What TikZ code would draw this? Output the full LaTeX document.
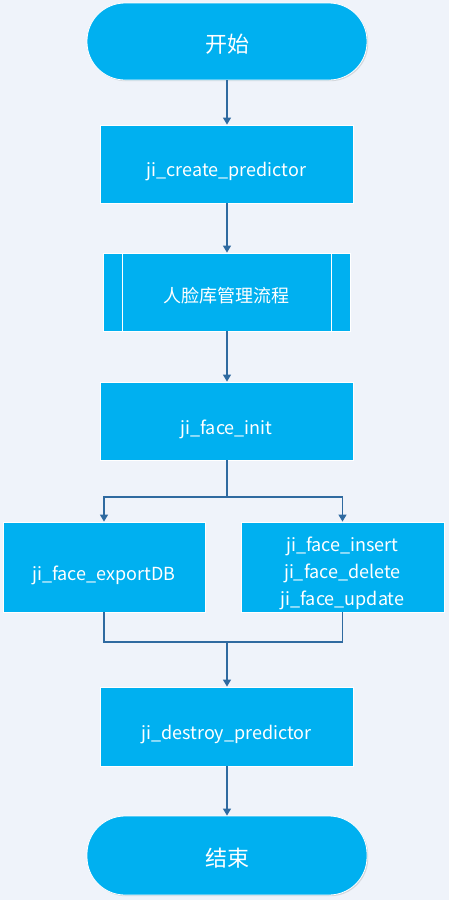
\documentclass[tikz,border=0pt]{standalone}
\usepackage{fontspec}
\setmainfont{Noto Sans CJK SC}
\usetikzlibrary{arrows.meta,shadows}
\definecolor{bgc}{HTML}{EFF3FA}
\definecolor{boxc}{HTML}{00B0F0}
\definecolor{linec}{HTML}{2F6AA0}
\newcommand{\lowr}[2]{\raisebox{-#1}[\height][\depth]{#2}}
\tikzset{
  base/.style={fill=boxc, draw=white, line width=0.8pt, text=white, font=\fontsize{18}{27}\selectfont, align=center, inner sep=0pt,
    drop shadow={shadow xshift=1.2pt, shadow yshift=-1.2pt, opacity=0.25, fill=gray}},
  terminal/.style={base, minimum width=280pt, minimum height=77pt, rounded corners=38pt, font=\fontsize{22}{27}\selectfont},
  proc/.style={base, minimum width=253pt, minimum height=78pt},
  conn/.style={draw=linec, line width=1.1pt},
  arr/.style={conn, -{Triangle[length=7pt,width=8pt]}}
}
\begin{document}
\begin{tikzpicture}[x=1pt,y=-1pt]
\fill[bgc] (0,0) rectangle (449,900);
\useasboundingbox (0,0) rectangle (449,900);
\node[terminal] (start) at (227,41.5) {\lowr{3pt}{开始}};
\node[proc] (create) at (226.5,164) {\lowr{8pt}{ji\_create\_predictor}};
\node[proc, minimum width=247pt] (sub) at (226.5,292) {\lowr{4pt}{人脸库管理流程}};
\draw[white, line width=0.8pt] (122,253) -- (122,331) (331,253) -- (331,331);
\node[proc] (init) at (226.5,421) {\lowr{8pt}{ji\_face\_init}};
\node[base, minimum width=202pt, minimum height=90pt] (export) at (104,567) {\lowr{8pt}{ji\_face\_exportDB}};
\node[base, minimum width=203pt, minimum height=90pt] (mod) at (342.5,567) {\lowr{6pt}{\begin{tabular}{@{}c@{}}ji\_face\_insert\\ji\_face\_delete\\ji\_face\_update\end{tabular}}};
\node[proc, minimum height=79pt] (destroy) at (226.5,726.5) {\lowr{8pt}{ji\_destroy\_predictor}};
\node[terminal, minimum height=79pt] (end) at (227,855.5) {\lowr{3pt}{结束}};
\coordinate (split) at (227,497);
\coordinate (merge) at (227,642);
\draw[arr] (start.south -| 227,0) -- (create.north -| 227,0);
\draw[arr] (create.south -| 227,0) -- (sub.north -| 227,0);
\draw[arr] (sub.south -| 227,0) -- (init.north -| 227,0);
\draw[conn] (init.south -| 227,0) -- (split);
\draw[arr] (split) -| (export.north);
\draw[arr] (split) -| (mod.north);
\draw[conn] (export.south) |- (merge) -| (mod.south);
\draw[arr] (merge) -- (destroy.north -| 227,0);
\draw[arr] (destroy.south -| 227,0) -- (end.north -| 227,0);
\end{tikzpicture}
\end{document}
